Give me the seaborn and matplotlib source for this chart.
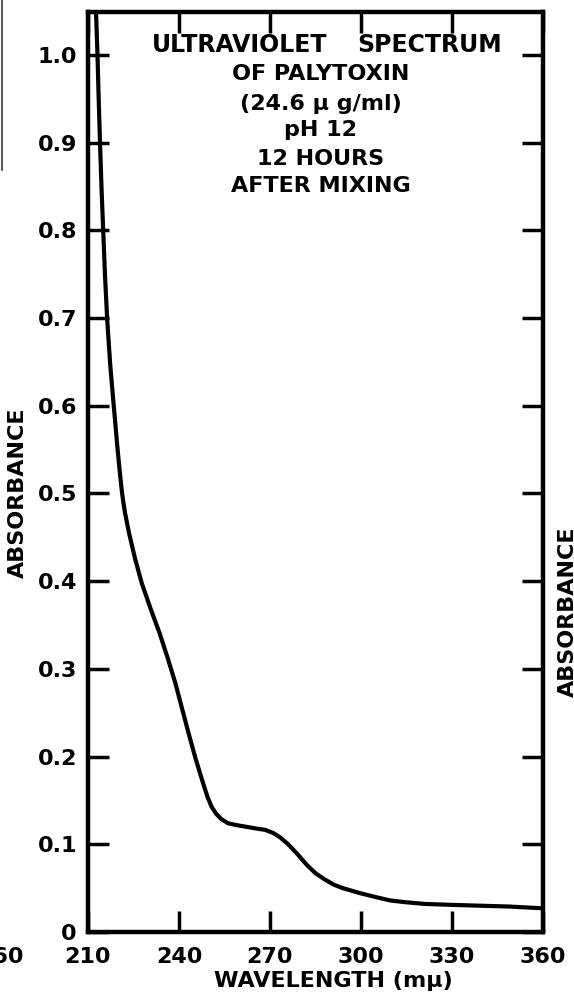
import matplotlib
matplotlib.use("Agg")

import matplotlib.pyplot as plt
import seaborn as sns
from matplotlib.lines import Line2D

# values
wavelength = [212.64, 213.13, 213.53, 213.96, 214.48, 215.01, 215.60, 216.33, 217.32, 218.51,
              219.76, 220.50, 221.21, 221.70, 222.20, 223.52, 225.49, 227.70, 230.60, 233.57,
              236.31, 238.78, 240.99, 243.13, 245.44, 247.91, 249.40, 250.71, 252.20, 253.85,
              256.15, 258.79, 262.09, 265.39, 268.35, 271.00, 273.30, 276.00, 279.00, 282.00,
              285.00, 288.00, 291.00, 294.00, 297.00, 300.00, 304.62, 309.56, 314.51, 321.10,
              329.34, 339.23, 349.12, 360.00]
absorbance = [1.049, 1.000, 0.949, 0.900, 0.846, 0.800, 0.749, 0.698, 0.647, 0.599,
              0.550, 0.524, 0.501, 0.489, 0.478, 0.455, 0.426, 0.398, 0.369, 0.341,
              0.312, 0.284, 0.255, 0.227, 0.198, 0.170, 0.154, 0.143, 0.135, 0.129,
              0.124, 0.122, 0.120, 0.118, 0.1165, 0.113, 0.108, 0.100, 0.089, 0.077,
              0.067, 0.060, 0.054, 0.050, 0.047, 0.044, 0.040, 0.036, 0.034, 0.032,
              0.031, 0.030, 0.029, 0.027]

x_ticks = [210, 240, 270, 300, 330, 360]
y_ticks = [0, 0.1, 0.2, 0.3, 0.4, 0.5, 0.6, 0.7, 0.8, 0.9, 1.0]
y_labels = ["0", "0.1", "0.2", "0.3", "0.4", "0.5", "0.6", "0.7", "0.8", "0.9", "1.0"]
title_lines = ["OF PALYTOXIN", "(24.6 μ g/ml)", "pH 12", "12 HOURS", "AFTER MIXING"]

sns.set_theme(style="ticks")
plt.rcParams["font.family"] = ["DejaVu Sans"]
plt.rcParams["font.weight"] = "bold"

W, H = 574, 1005
fig = plt.figure(figsize=(W / 100, H / 100), dpi=100)
ax = fig.add_axes([88 / W, (H - 932) / H, 455 / W, 920 / H])

sns.lineplot(x=wavelength, y=absorbance, ax=ax, color="black", linewidth=3,
             sort=False, estimator=None, solid_joinstyle="round",
             solid_capstyle="round")

ax.set_xlim(210, 360)
ax.set_ylim(0, 1.049)
ax.set_xticks(x_ticks)
ax.set_xticklabels([str(v) for v in x_ticks])
ax.set_yticks(y_ticks)
ax.set_yticklabels(y_labels)
ax.tick_params(direction="in", length=15, width=2.5, top=True, right=True,
               labelsize=16, colors="black")
ax.tick_params(axis="x", pad=11)
ax.tick_params(axis="y", pad=8)
for lab in ax.get_xticklabels() + ax.get_yticklabels():
    lab.set_fontweight("bold")
for sp in ax.spines.values():
    sp.set_linewidth(3.2)
    sp.set_color("black")

ax.set_xlabel("WAVELENGTH (mμ)", fontsize=16, fontweight="bold", color="black")
ax.set_ylabel("ABSORBANCE", fontsize=16, fontweight="bold", color="black")
ax.xaxis.set_label_coords(0.54, -0.042)
ax.yaxis.set_label_coords(-0.132, 0.477)

# heading, first line set wide like the original lettering
fig.text(240 / W, 1 - 45 / H, "ULTRAVIOLET", ha="center", va="center",
         fontsize=17, fontweight="bold", color="black")
fig.text(430 / W, 1 - 45 / H, "SPECTRUM", ha="center", va="center",
         fontsize=17, fontweight="bold", color="black")
title_y = [74, 104, 130, 159, 186]
for txt, yp in zip(title_lines, title_y):
    fig.text(321 / W, 1 - yp / H, txt, ha="center", va="center",
             fontsize=16, fontweight="bold", color="black")

# bits of the neighbouring figures on the scanned page
fig.text(24 / W, 1 - 957 / H, "360", ha="right", va="center", fontsize=16,
         fontweight="bold", color="black")
fig.text(568 / W, 1 - 612 / H, "ABSORBANCE", rotation=90, ha="center", va="center",
         fontsize=16, fontweight="bold", color="black")
fig.add_artist(Line2D([2 / W, 2 / W], [1, 1 - 170 / H], color="0.35", linewidth=1.5))

plt.savefig("out.png", dpi=100)
plt.close()
